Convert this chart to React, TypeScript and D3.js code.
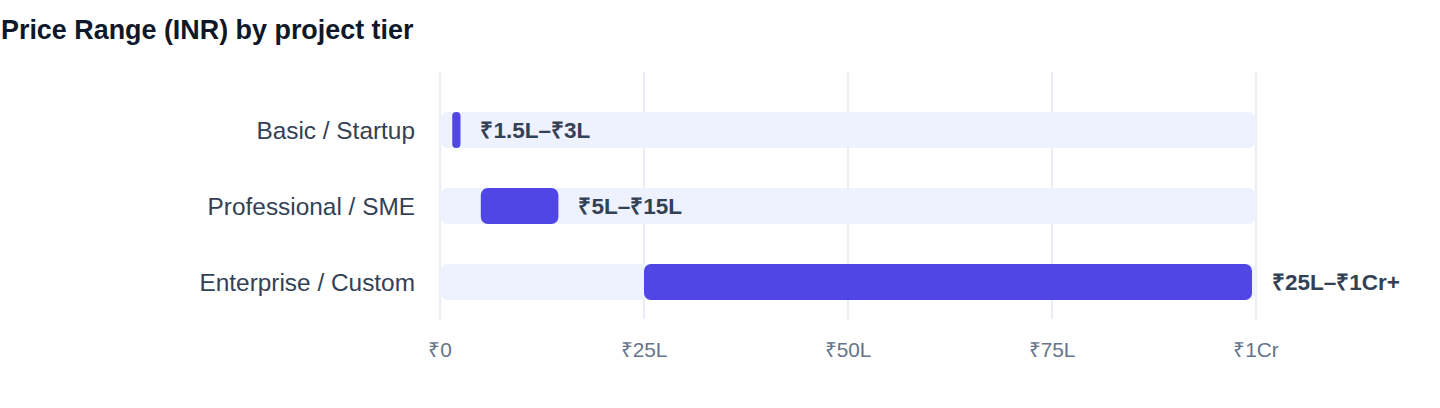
import React from 'react';
import * as d3 from 'd3';

const tiers = ['Basic / Startup', 'Professional / SME', 'Enterprise / Custom'];
const lowLakh = [1.5, 5, 25];
const highLakh = [3, 15, 100];
const rangeLabels = ['₹1.5L–₹3L', '₹5L–₹15L', '₹25L–₹1Cr+'];
const tickValues = [0, 25, 50, 75, 100];
const tickLabels = ['₹0', '₹25L', '₹50L', '₹75L', '₹1Cr'];

const W = 1440;
const H = 408;
const FONT = '"Liberation Sans", Arial, Helvetica, sans-serif';

const App: React.FC = () => {
  const x = d3.scaleLinear().domain([0, 100]).range([440, 1256]);
  const y = d3
    .scaleBand<string>()
    .domain(tiers)
    .range([92, 320])
    .paddingInner(40 / 76)
    .paddingOuter(20 / 76);
  const bw = y.bandwidth();

  return (
    <div style={{ position: 'fixed', left: 0, top: 0 }}>
      <svg width={W} height={H} style={{ display: 'block', background: '#fff' }} fontFamily={FONT}>
        <text x={1} y={39} fontSize={26.9} fontWeight={700} fill="#0f172a">
          Price Range (INR) by project tier
        </text>

        {/* grid */}
        <g>
          {tickValues.map((t) => (
            <line key={t} x1={x(t)} x2={x(t)} y1={72} y2={319} stroke="#e2e8f0" strokeWidth={1.5} />
          ))}
        </g>

        {/* tracks + bars */}
        <g>
          {tiers.map((c, i) => {
            const y0 = y(c)!;
            const bx = x(lowLakh[i]);
            const bwid = x(highLakh[i]) - x(lowLakh[i]) - 4;
            return (
              <g key={c}>
                <rect x={x(0)} y={y0} width={x(100) - x(0)} height={bw} rx={8} fill="#eef2ff" />
                <rect x={bx} y={y0} width={bwid} height={bw} rx={Math.min(7, bwid / 2)} fill="#4f46e5" />
                <text
                  x={x(highLakh[i]) + 16}
                  y={y0 + bw / 2}
                  dominantBaseline="central"
                  fontSize={22.5}
                  fontWeight={700}
                  fill="#334155"
                >
                  {rangeLabels[i]}
                </text>
                <text
                  x={415}
                  y={y0 + bw / 2}
                  dominantBaseline="central"
                  textAnchor="end"
                  fontSize={24.4}
                  fill="#334155"
                >
                  {c}
                </text>
              </g>
            );
          })}
        </g>

        {/* x axis labels */}
        <g>
          {tickValues.map((t, i) => (
            <text key={t} x={x(t)} y={357} textAnchor="middle" fontSize={20.8} fill="#64748b">
              {tickLabels[i]}
            </text>
          ))}
        </g>
      </svg>
    </div>
  );
};

export default App;
